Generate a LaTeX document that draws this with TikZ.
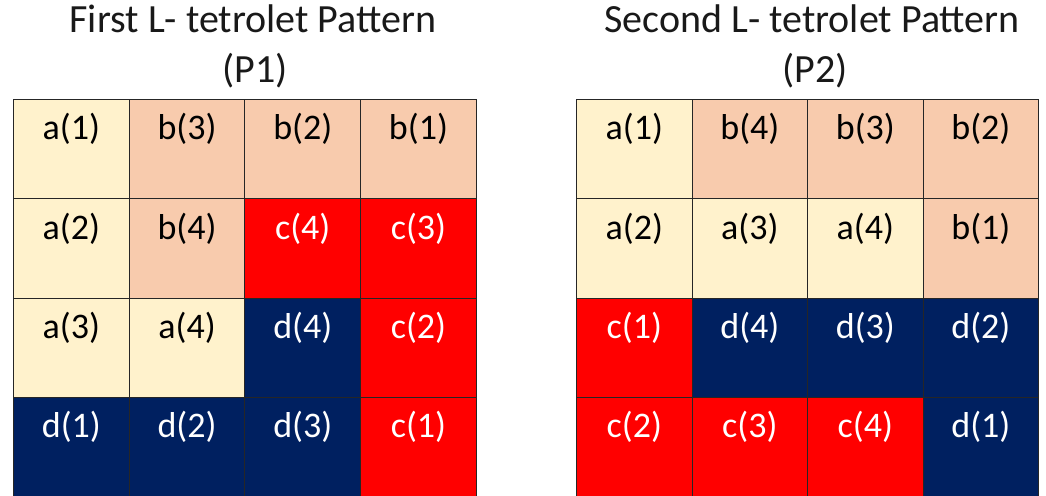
\documentclass[tikz,border=0pt]{standalone}
\usepackage{fontspec}
\setmainfont{Carlito}
\definecolor{beige}{HTML}{FFF2CC}
\definecolor{peach}{HTML}{F8CBAD}
\definecolor{navy}{HTML}{002060}
\definecolor{redc}{HTML}{FF0000}
\begin{document}
\begin{tikzpicture}[x=1bp,y=-1bp,
  cell/.style={draw=black!85, line width=1bp, minimum width=115.7bp, minimum height=99.3bp, inner sep=0pt, anchor=north west},
  lab/.style={anchor=base, inner sep=0pt, font=\fontsize{36bp}{44bp}\selectfont},
  ttl/.style={anchor=base, inner sep=0pt, font=\fontsize{40bp}{48bp}\selectfont, text=black!90}]
\useasboundingbox (0,0) rectangle (1046,496);
\clip (0,0) rectangle (1046,496);
% grid 1
\foreach \lab/\fc/\tc [count=\i from 0] in {
  a(1)/beige/black, b(3)/peach/black, b(2)/peach/black, b(1)/peach/black,
  a(2)/beige/black, b(4)/peach/black, c(4)/redc/white, c(3)/redc/white,
  a(3)/beige/black, a(4)/beige/black, d(4)/navy/white, c(2)/redc/white,
  d(1)/navy/white, d(2)/navy/white, d(3)/navy/white, c(1)/redc/white}{
  \pgfmathtruncatemacro\r{int(\i/4)}
  \pgfmathtruncatemacro\c{mod(\i,4)}
  \node[cell, fill=\fc] (ga-\r-\c) at (13+115.7*\c, 99+99.3*\r) {};
  \node[lab, text=\tc] (ta-\r-\c) at ([yshift=-41bp]ga-\r-\c.north) {\lab};
}
% grid 2
\foreach \lab/\fc/\tc [count=\i from 0] in {
  a(1)/beige/black, b(4)/peach/black, b(3)/peach/black, b(2)/peach/black,
  a(2)/beige/black, a(3)/beige/black, a(4)/beige/black, b(1)/peach/black,
  c(1)/redc/white, d(4)/navy/white, d(3)/navy/white, d(2)/navy/white,
  c(2)/redc/white, c(3)/redc/white, c(4)/redc/white, d(1)/navy/white}{
  \pgfmathtruncatemacro\r{int(\i/4)}
  \pgfmathtruncatemacro\c{mod(\i,4)}
  \node[cell, fill=\fc] (gb-\r-\c) at (576+115.5*\c, 99+99.3*\r) {};
  \node[lab, text=\tc] (tb-\r-\c) at ([yshift=-41bp]gb-\r-\c.north) {\lab};
}
\node[ttl] (t1a) at (253,33) {First L- tetrolet Pattern};
\node[ttl] (t1b) at (255,83) {(P1)};
\node[ttl] (t2a) at (812,33) {Second L- tetrolet Pattern};
\node[ttl] (t2b) at (815,83) {(P2)};
\end{tikzpicture}
\end{document}
